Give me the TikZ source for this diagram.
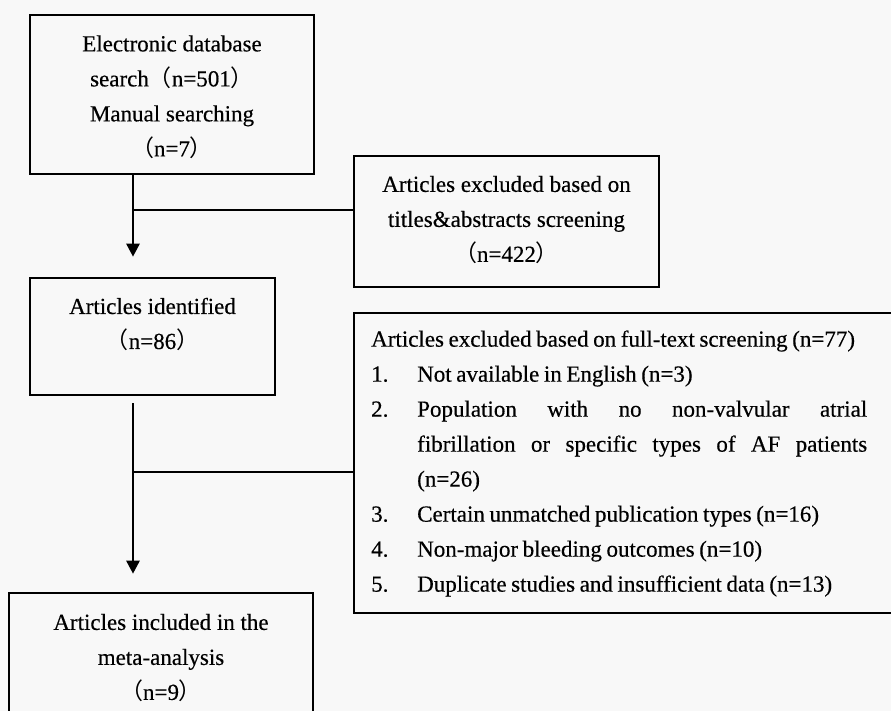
\documentclass[tikz,border=0pt]{standalone}
\usepackage{fontspec}
\setmainfont[FakeBold=0.4]{Liberation Serif}
\newfontfamily\cjkfw{Noto Sans CJK SC}
\newcommand\fwl{{\cjkfw （}}
\newcommand\fwr{{\cjkfw ）}}
\usetikzlibrary{arrows.meta}
\definecolor{bgc}{RGB}{248,248,248}
\tikzset{
  box/.style={draw=black, line width=2.6pt, rectangle, inner sep=0pt},
  txt/.style={align=center, font=\fontsize{23}{35}\selectfont, inner sep=0pt},
  conn/.style={draw=black, line width=2.6pt},
  arr/.style={conn, -{Triangle[width=13pt,length=13pt]}}
}
\begin{document}
\begin{tikzpicture}[x=1pt, y=-1pt]
\useasboundingbox (0,0) rectangle (891,711);
\fill[bgc] (0,0) rectangle (891,711);
\clip (0,0) rectangle (891,711);
% boxes
\node[box, minimum width=284pt, minimum height=159pt] (b1) at (172,94.5) {};
\node[box, minimum width=305pt, minimum height=131pt] (b2) at (506.5,221.5) {};
\node[box, minimum width=245pt, minimum height=117pt] (b3) at (152.5,336.5) {};
\node[box, minimum width=551pt, minimum height=300pt] (b4) at (629.5,463) {};
\node[box, minimum width=304pt, minimum height=147pt] (b5) at (161,666.5) {};
% texts
\node[txt] (t1) at (172,97) {Electronic database\\ search\fwl{}n=501\fwr\\ Manual searching\\ \fwl{}n=7\fwr};
\node[txt] (t2) at (506.5,220) {Articles excluded based on\\ titles\&abstracts screening\\ \fwl{}n=422\fwr};
\node[txt] (t3) at (152.5,324.5) {Articles identified\\ \fwl{}n=86\fwr};
\node[txt] (t5) at (161,658) {Articles included in the\\ meta-analysis\\ \fwl{}n=9\fwr};
\node[txt, align=left, anchor=west, text width=510pt] (t4) at (371,463.5) {\spaceskip=0.2em plus 0.05em
Articles excluded based on full-text screening (n=77)\\
\makebox[46pt][l]{1.}Not available in English (n=3)\\
\makebox[46pt][l]{2.}\hbox to 450pt{Population\hfill with\hfill no\hfill non-valvular\hfill atrial}\\
\hspace*{46pt}\hbox to 450pt{fibrillation\hfill or\hfill specific\hfill types\hfill of\hfill AF\hfill patients}\\
\hspace*{46pt}(n=26)\\
\makebox[46pt][l]{3.}Certain unmatched publication types (n=16)\\
\makebox[46pt][l]{4.}Non-major bleeding outcomes (n=10)\\
\makebox[46pt][l]{5.}Duplicate studies and insufficient data (n=13)};
% connectors
\coordinate (xl) at (133,0);
\coordinate (j1) at (133,210);
\coordinate (j2) at (133,472);
\draw[arr, shorten >=20pt] (b1.south -| xl) -- (b3.north -| xl);
\draw[conn] (j1) -- (j1 -| b2.west);
\draw[arr, shorten <=7pt, shorten >=18pt] (b3.south -| xl) -- (b5.north -| xl);
\draw[conn] (j2) -- (j2 -| b4.west);
\end{tikzpicture}
\end{document}
